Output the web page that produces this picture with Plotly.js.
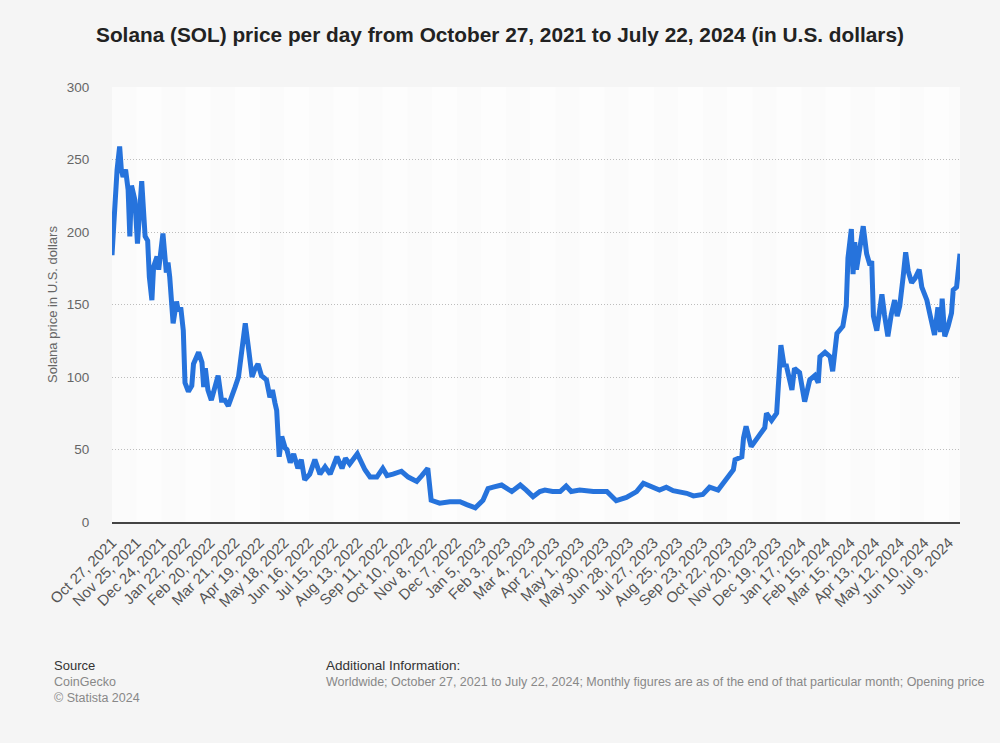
<!DOCTYPE html>
<html>
<head>
<meta charset="utf-8">
<script src="https://cdn.plot.ly/plotly-3.0.1.min.js"></script>
<style>
html,body{margin:0;padding:0;background:#f5f5f5;}
#chart{width:1000px;height:743px;}
</style>
</head>
<body>
<div id="chart"></div>
<script>
// Day offsets from October 27, 2021 (day 0) and Solana opening price (USD)
const dayOffsets = [0,1,2,6,9,11,13,16,19,21,23,27,30,35,39,42,44,47,49,53,55,60,62,64,66,68,72,76,78,81,84,86,90,94,96,102,106,108,110,113,117,120,125,129,133,137,141,145,149,153,157,161,165,168,172,176,182,186,189,192,194,197,200,204,206,210,214,219,223,227,233,239,245,251,257,265,271,275,280,289,298,304,312,319,324,331,341,349,359,365,372,376,386,398,410,418,428,437,443,449,459,471,481,488,496,504,510,519,528,535,541,551,567,583,594,606,618,626,638,645,653,661,677,685,696,704,714,726,732,734,742,744,747,753,761,765,769,771,777,783,788,792,794,801,804,810,816,822,828,832,834,840,846,849,854,861,863,865,867,871,873,875,877,881,885,889,893,895,897,901,904,907,910,914,918,922,925,928,932,935,938,942,946,951,954,960,964,969,973,976,978,981,985,989,991,995,999];
const prices = [184,200,204,243,259,243,238,243,229,197,232,222,192,235,197,194,169,153,176,183,174,199,179,172,179,169,137,152,146,148,132,96,90,94,109,117,110,93,106,91,84,91,101,84,84,80,88,93,100,116,137,119,100,105,109,101,98,86,91,82,77,45,59,51,50,41,47,37,43,29,33,43,33,38,33,45,37,44,40,47,36,31,31,37,32,33,35,31,28,32,37,15,13,14,14,12,9.8,15,23,24,25.5,21,25.5,22,17.5,21,22,21,21,24.8,21,22,21,21,14.7,17,21,26.7,24,22,24,21.6,19.8,18,19,24,22,32,36,43,45,58,66,52,59,63,65,75,70,75,122,107,109,91,106,103,83,98,101,96,114,117,114,104,130,135,146,149,182,202,171,193,174,190,204,185,177,180,142,132,146,157,143,128,143,153,142,149,169,186,173,165,168,174,162,153,142,129,148,131,154,128,135,144,160,162,185];

// Tick positions (every 29 days) and their labels
const tickDays = [0,29,58,87,116,145,174,203,232,261,290,319,348,377,406,435,464,493,522,551,580,609,638,667,696,725,754,783,812,841,870,899,928,957,986];
const tickLabels = ["Oct 27, 2021","Nov 25, 2021","Dec 24, 2021","Jan 22, 2022","Feb 20, 2022","Mar 21, 2022","Apr 19, 2022","May 18, 2022","Jun 16, 2022","Jul 15, 2022","Aug 13, 2022","Sep 11, 2022","Oct 10, 2022","Nov 8, 2022","Dec 7, 2022","Jan 5, 2023","Feb 3, 2023","Mar 4, 2023","Apr 2, 2023","May 1, 2023","May 30, 2023","Jun 28, 2023","Jul 27, 2023","Aug 25, 2023","Sep 23, 2023","Oct 22, 2023","Nov 20, 2023","Dec 19, 2023","Jan 17, 2024","Feb 15, 2024","Mar 15, 2024","Apr 13, 2024","May 12, 2024","Jun 10, 2024","Jul 9, 2024"];

const FONT = "Liberation Sans, Arial, Helvetica, sans-serif";

// alternating background bands
const shapes = [];
for (let i = 0; i < tickDays.length; i += 2) {
  const x0 = tickDays[i];
  const x1 = (i + 1 < tickDays.length) ? tickDays[i + 1] : 999;
  shapes.push({type:'rect', xref:'x', yref:'paper', x0:x0, x1:x1, y0:0, y1:1,
    fillcolor:'rgba(0,0,0,0.008)', line:{width:0}, layer:'below'});
}

const trace = {
  x: dayOffsets, y: prices, type:'scatter', mode:'lines',
  line:{color:'#2673dc', width:5, shape:'linear'},
  hoverinfo:'y', cliponaxis:false
};

const layout = {
  width:1000, height:743,
  paper_bgcolor:'#f5f5f5', plot_bgcolor:'#fdfdfd',
  margin:{l:112, r:40, t:87, b:221},
  font:{family:FONT, color:'#666'},
  showlegend:false,
  title:{text:'<b>Solana (SOL) price per day from October 27, 2021 to July 22, 2024 (in U.S. dollars)</b>',
    font:{family:FONT, size:20.8, color:'#222'}, x:0.5, xanchor:'center', y:0.953, yanchor:'middle'},
  xaxis:{range:[0,999], tickmode:'array', tickvals:tickDays, ticktext:tickLabels,
    tickangle:-45, tickfont:{size:15, color:'#555'}, showgrid:false, zeroline:false,
    showline:true, linecolor:'#444', linewidth:2, ticks:'outside', ticklen:4, tickcolor:'rgba(0,0,0,0)',
    fixedrange:true},
  yaxis:{range:[0,300], tickvals:[0,50,100,150,200,250,300], tickfont:{size:13.5, color:'#666'},
    showgrid:true, gridcolor:'#bdbdbd', griddash:'1px,2px', gridwidth:1, zeroline:false,
    ticks:'outside', ticklen:19, tickcolor:'rgba(0,0,0,0)',
    title:{text:'Solana price in U.S. dollars', font:{size:13, color:'#666'}, standoff:6},
    fixedrange:true},
  shapes: shapes,
  annotations:[
    {xref:'paper', yref:'paper', x:-0.071, y:-0.329, xanchor:'left', yanchor:'middle', showarrow:false,
      text:'Source', font:{size:13, color:'#333'}},
    {xref:'paper', yref:'paper', x:-0.071, y:-0.368, xanchor:'left', yanchor:'middle', showarrow:false,
      text:'CoinGecko', font:{size:12.5, color:'#888'}},
    {xref:'paper', yref:'paper', x:-0.071, y:-0.405, xanchor:'left', yanchor:'middle', showarrow:false,
      text:'© Statista 2024', font:{size:12.5, color:'#888'}},
    {xref:'paper', yref:'paper', x:0.250, y:-0.329, xanchor:'left', yanchor:'middle', showarrow:false,
      text:'Additional Information:', font:{size:13.5, color:'#333'}},
    {xref:'paper', yref:'paper', x:0.250, y:-0.368, xanchor:'left', yanchor:'middle', showarrow:false,
      text:'Worldwide; October 27, 2021 to July 22, 2024; Monthly figures are as of the end of that particular month; Opening price',
      font:{size:12.5, color:'#888'}}
  ]
};

Plotly.newPlot('chart', [trace], layout, {displayModeBar:false, staticPlot:true});
</script>
</body>
</html>
